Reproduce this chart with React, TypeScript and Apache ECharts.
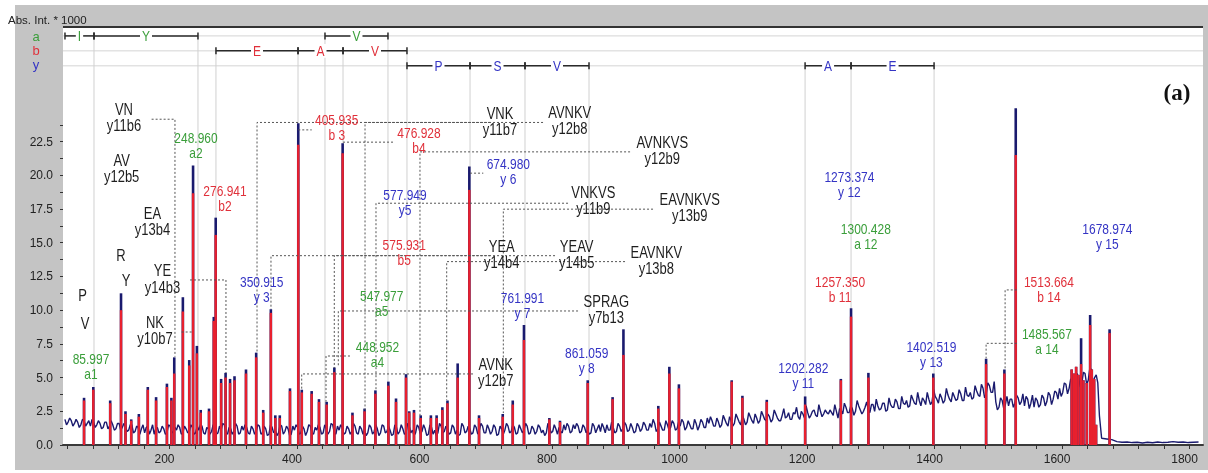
import React, { useEffect, useRef } from "react";
import * as echarts from "echarts";

// ---------- data ----------
const xTickLabels = [200, 400, 600, 800, 1000, 1200, 1400, 1600, 1800];
const yTickLabels = [0, 2.5, 5, 7.5, 10, 12.5, 15, 17.5, 20, 22.5];

// profile (baseline noise) read every 2.5 m/z from 36: on-grid samples and in-between samples
const noiseStart = 36;
const noiseStep = 5;
const noiseValues = [
  1.9, 1.7, 1.8, 1.6, 1.7, 1.5, 1.8, 1.6, 1.4, 1.7, 1.5, 1.6, 1.3, 1.7, 1.4, 1.5, 1.2, 1.6, 1.3, 1.4,
  1.1, 1.5, 1.0, 1.3, 1.2, 0.9, 1.4, 1.1, 0.8, 1.3, 1.0, 1.2, 0.9, 1.4, 1.0, 1.1, 1.3, 0.9, 1.2, 1.0,
  1.3, 0.9, 1.1, 1.4, 0.8, 1.2, 1.0, 1.3, 0.9, 1.1, 1.5, 0.8, 1.2, 1.0, 1.4, 0.9, 1.1, 1.3, 0.8, 1.2,
  1.0, 1.4, 0.9, 1.2, 0.8, 1.3, 1.1, 0.9, 1.4, 1.0, 1.2, 0.8, 1.1, 1.3, 0.9, 1.2, 1.0, 1.4, 0.8, 1.1,
  1.3, 0.9, 1.2, 1.0, 1.5, 0.8, 1.1, 1.3, 0.9, 1.2, 1.0, 1.4, 0.8, 1.2, 1.1, 0.9, 1.3, 1.0, 1.2, 0.9,
  1.4, 1.0, 1.1, 0.8, 1.3, 1.0, 1.2, 0.9, 1.4, 1.1, 0.9, 1.3, 1.0, 1.2, 0.8, 1.3, 1.1, 0.9, 1.4, 1.0,
  1.2, 0.9, 1.3, 1.1, 0.8, 1.4, 1.0, 1.2, 0.9, 1.3, 1.1, 1.4, 0.9, 1.2, 1.0, 1.3, 0.8, 1.2, 1.1, 1.4,
  1.0, 1.3, 0.9, 1.2, 1.1, 1.4, 0.9, 1.2, 1.0, 1.3, 1.1, 0.9, 1.4, 1.0, 1.2, 1.3, 0.9, 1.1, 1.4, 1.0,
  1.2, 1.4, 1.0, 1.3, 1.1, 0.9, 1.4, 1.2, 1.0, 1.3, 1.5, 1.1, 1.3, 1.0, 1.4, 1.2, 1.5, 1.1, 1.3, 1.0,
  1.4, 1.2, 1.5, 1.1, 1.3, 1.6, 1.2, 1.4, 1.1, 1.5, 1.3, 1.6, 1.2, 1.4, 1.7, 1.3, 1.5, 1.2, 1.6, 1.4,
  1.7, 1.3, 1.6, 1.8, 1.4, 1.7, 1.5, 1.9, 1.4, 1.8, 1.6, 2.0, 1.5, 1.9, 1.7, 2.1, 1.6, 2.0, 1.8, 2.2,
  1.8, 2.1, 1.9, 2.3, 1.8, 2.2, 2.0, 2.4, 1.9, 2.3, 2.1, 2.5, 2.0, 2.4, 2.2, 2.6, 2.1, 2.5, 2.3, 2.4,
  2.6, 2.2, 2.5, 2.7, 2.3, 2.8, 2.4, 2.7, 2.5, 2.9, 2.3, 2.8, 2.6, 3.0, 2.5, 2.9, 2.7, 3.1, 2.6, 3.0,
  2.8, 3.2, 2.7, 3.1, 3.3, 2.9, 3.4, 3.0, 3.3, 3.5, 3.0, 3.4, 3.2, 3.6, 3.1, 3.5, 3.3, 3.7, 3.2, 3.6,
  3.4, 3.8, 3.3, 3.7, 3.9, 3.5, 4.0, 3.6, 4.2, 3.8, 4.4, 3.9, 3.2, 2.8, 3.3, 3.0, 2.9, 3.4, 3.1, 3.5,
  3.2, 2.9, 3.4, 3.1, 2.8, 3.3, 3.0, 3.5, 3.2, 3.7, 3.4, 3.9, 4.2, 3.9, 4.5, 4.2, 4.8, 4.5, 5.0, 4.6,
  5.3, 4.8, 5.6, 5.0, 4.6,
];
const noiseMidValues = [
  1.5, 2.0, 1.4, 1.9, 1.3, 1.9, 1.4, 1.8, 1.9, 1.3, 1.8, 1.2, 1.7, 1.2, 1.8, 1.1, 1.6, 1.1, 1.6, 1.0,
  1.5, 0.9, 1.4, 0.8, 1.5, 1.3, 0.8, 1.5, 1.2, 0.9, 1.4, 0.8, 1.5, 0.9, 1.3, 1.5, 0.8, 1.4, 0.9, 1.5,
  0.8, 1.4, 1.5, 0.9, 1.3, 0.8, 1.5, 0.8, 1.4, 1.6, 0.9, 1.3, 0.8, 1.6, 0.8, 1.4, 1.5, 0.9, 1.4, 0.8,
  1.5, 0.8, 1.4, 0.7, 1.5, 0.9, 0.7, 1.5, 0.8, 1.4, 0.7, 1.4, 1.5, 0.8, 1.4, 0.7, 1.5, 0.9, 1.3, 1.5,
  0.8, 1.5, 0.8, 1.6, 0.9, 1.4, 1.5, 0.8, 1.4, 0.8, 1.6, 0.9, 1.4, 0.8, 0.7, 1.5, 0.8, 1.5, 0.7, 1.5,
  0.9, 1.4, 0.7, 1.5, 0.8, 1.5, 0.8, 1.6, 0.9, 0.7, 1.5, 0.8, 1.5, 0.7, 1.5, 0.8, 0.7, 1.6, 0.9, 1.4,
  0.8, 1.5, 0.8, 0.7, 1.6, 0.9, 1.4, 0.8, 1.5, 0.8, 1.6, 0.9, 1.5, 0.8, 1.5, 0.7, 1.4, 0.8, 1.6, 0.9,
  1.5, 0.8, 1.5, 0.9, 1.6, 0.8, 1.4, 0.8, 1.5, 0.9, 0.7, 1.6, 0.9, 1.5, 0.8, 1.0, 1.5, 1.6, 0.9, 1.5,
  1.6, 0.9, 1.5, 0.9, 0.8, 1.6, 0.9, 1.5, 1.6, 0.9, 1.1, 1.7, 0.9, 1.6, 1.0, 1.7, 1.0, 1.6, 0.9, 1.6,
  1.0, 1.7, 1.1, 1.6, 1.9, 1.0, 1.7, 1.1, 1.8, 1.1, 1.8, 1.1, 1.7, 1.9, 1.1, 1.8, 1.2, 1.9, 1.1, 1.9,
  1.3, 2.0, 2.1, 1.4, 2.0, 1.3, 2.2, 1.6, 2.1, 1.4, 2.3, 1.7, 2.2, 1.5, 2.4, 1.8, 2.3, 1.6, 2.5, 1.9,
  2.3, 1.7, 2.6, 2.0, 1.8, 2.7, 2.1, 1.9, 2.4, 2.8, 1.9, 2.3, 2.9, 2.0, 2.5, 2.2, 3.0, 2.1, 2.6, 2.3,
  2.4, 3.0, 2.0, 2.6, 3.1, 2.4, 2.9, 2.2, 3.3, 2.6, 2.5, 3.2, 2.4, 3.0, 3.4, 2.6, 3.1, 2.5, 3.5, 2.8,
  3.4, 2.7, 3.6, 3.0, 2.8, 3.7, 3.1, 3.9, 2.9, 3.3, 3.9, 3.0, 4.1, 3.4, 3.8, 3.1, 4.2, 3.4, 3.9, 3.3,
  4.1, 3.3, 4.3, 3.6, 3.4, 4.4, 3.7, 4.5, 3.5, 4.6, 3.9, 4.7, 2.6, 3.5, 2.7, 3.6, 3.4, 2.8, 3.7, 3.0,
  3.8, 3.6, 2.7, 3.7, 3.5, 2.8, 3.7, 2.9, 3.9, 3.0, 4.0, 3.4, 3.6, 4.6, 3.8, 4.9, 4.0, 5.3, 4.3, 5.4,
  4.5, 5.7, 4.6, 5.2, 2.2,
];
const tailStart = 1662;
const tailStep = 8;
const tailValues = [0.5, 0.45, 0.4, 0.25, 0.2, 0.22, 0.18, 0.2, 0.15, 0.2, 0.17, 0.22, 0.18, 0.2, 0.25, 0.2, 0.22, 0.18, 0.2, 0.22];

// peaks: [m/z, profile top, annotated (red) top]
const peaks: [number, number, number][] = [
  [66, 3.5, 3.3], [80.5, 4.3, 4.1], [107, 3.3, 3.1], [124, 11.25, 10.0], [131, 2.5, 2.3],
  [140, 1.9, 1.8], [152, 2.3, 2.1], [166, 4.3, 4.1], [179, 3.55, 3.3], [196, 4.55, 4.3],
  [203, 3.5, 3.3], [207.5, 6.5, 5.3], [221, 10.96, 9.9], [231, 6.3, 5.9], [237, 20.72, 18.67],
  [243, 7.35, 6.8], [249, 2.6, 2.4], [262, 2.7, 2.5], [269.5, 9.5, 9.2], [272.5, 16.86, 15.58],
  [281, 4.9, 4.6], [288, 5.35, 5.0], [295, 4.9, 4.6], [302, 5.1, 4.8], [320, 5.6, 5.3],
  [336, 6.85, 6.5], [347, 2.6, 2.4], [359, 10.07, 9.8], [366, 2.2, 2.0], [373, 2.2, 2.0],
  [389, 4.2, 4.0], [402, 23.87, 22.26], [407.5, 4.1, 3.9], [423, 4.0, 3.8], [434.5, 3.4, 3.2],
  [446.5, 3.2, 3.0], [458.6, 5.75, 5.4], [471.6, 22.38, 21.64], [487, 2.4, 2.2], [506, 2.7, 2.5],
  [523, 4.05, 3.8], [543.3, 4.7, 4.4], [555.3, 3.45, 3.2], [571, 5.25, 5.0], [576, 2.5, 2.4],
  [583.5, 2.6, 2.4], [594, 2.2, 2.0], [610, 2.2, 2.0], [619, 2.2, 2.0], [628, 2.8, 2.6],
  [636, 3.3, 3.1], [652, 6.05, 5.0], [670.3, 20.65, 18.92], [685.5, 2.2, 2.0], [722.7, 2.3, 2.1],
  [738.4, 3.3, 3.0], [756, 8.9, 7.79], [795.8, 2.0, 1.9], [812.5, 1.8, 1.7], [856, 4.8, 4.6],
  [895, 3.55, 3.4], [912, 8.58, 6.68], [966.7, 2.9, 2.7], [984, 5.8, 5.3], [999, 4.5, 4.2],
  [1081.8, 4.8, 4.7], [1098.6, 3.65, 3.5], [1136.8, 3.35, 3.2], [1197, 3.6, 3.0], [1253, 4.9, 4.8],
  [1269, 10.14, 9.52], [1296.2, 5.35, 5.0], [1398, 5.3, 5.0], [1480.8, 6.4, 6.0], [1509.5, 5.6, 5.3],
  [1527.3, 24.98, 21.51], [1615, 5.6, 5.6], [1619, 5.3, 5.3], [1622, 5.8, 5.8], [1625.6, 5.2, 5.2],
  [1629.8, 7.92, 6.0], [1633.4, 4.8, 4.8], [1638.7, 4.6, 4.6], [1644, 9.64, 8.9], [1646.6, 5.6, 5.6],
  [1650.2, 4.9, 4.9], [1653.3, 1.5, 1.5], [1674.5, 8.58, 8.3],
];

// annotation labels: [m/z, intensity, text, kind]  kind: a / b / y ion, k = internal fragment
const annotations: [number, number, string, string][] = [
  [128.6, 24.26, "VN\ny11b6", "k"],
  [125.0, 20.49, "AV\ny12b5", "k"],
  [241.6, 22.22, "248.960\na2", "a"],
  [173.3, 16.57, "EA\ny13b4", "k"],
  [287.1, 18.3, "276.941\nb2", "b"],
  [123.9, 14.04, "R", "k"],
  [131.8, 12.19, "Y", "k"],
  [189.0, 12.3, "YE\ny14b3", "k"],
  [63.8, 11.08, "P", "k"],
  [67.5, 9.03, "V", "k"],
  [177.3, 8.47, "NK\ny10b7", "k"],
  [76.9, 5.81, "85.997\na1", "a"],
  [344.6, 11.52, "350.915\ny 3", "y"],
  [462.3, 23.55, "405.935\nb 3", "b"],
  [591.4, 22.57, "476.928\nb4", "b"],
  [718.4, 24.01, "VNK\ny11b7", "k"],
  [827.8, 24.07, "AVNKV\ny12b8", "k"],
  [972.9, 21.85, "AVNKVS\ny12b9", "k"],
  [731.5, 20.24, "674.980\ny 6", "y"],
  [569.4, 17.95, "577.949\ny5", "y"],
  [864.8, 18.12, "VNKVS\ny11b9", "k"],
  [1016.0, 17.62, "EAVNKVS\ny13b9", "k"],
  [568.2, 14.28, "575.931\nb5", "b"],
  [721.1, 14.15, "YEA\ny14b4", "k"],
  [838.7, 14.15, "YEAV\ny14b5", "k"],
  [963.6, 13.69, "EAVNKV\ny13b8", "k"],
  [532.9, 10.51, "547.977\na5", "a"],
  [753.7, 10.35, "761.991\ny 7", "y"],
  [885.2, 10.07, "SPRAG\ny7b13", "k"],
  [526.3, 6.7, "448.952\na4", "a"],
  [711.8, 5.38, "AVNK\ny12b7", "k"],
  [854.4, 6.25, "861.059\ny 8", "y"],
  [1194.2, 5.17, "1202.282\ny 11", "y"],
  [1266.4, 19.29, "1273.374\ny 12", "y"],
  [1292.2, 15.45, "1300.428\na 12", "a"],
  [1251.8, 11.5, "1257.350\nb 11", "b"],
  [1395.0, 6.74, "1402.519\ny 13", "y"],
  [1579.3, 11.56, "1513.664\nb 14", "b"],
  [1576.2, 7.69, "1485.567\na 14", "a"],
  [1670.9, 15.45, "1678.974\ny 15", "y"],
];

// dotted leader lines: list of [m/z, intensity] points
const connectors: [number, number][][] = [
  [[172.0, 24.16], [208.6, 24.16], [208.6, 6.55]],
  [[232.2, 12.24], [288.6, 12.24], [288.6, 5.34]],
  [[219.1, 8.38], [237.3, 8.38]],
  [[402.0, 23.37], [423.1, 23.37]],
  [[472.2, 22.46], [550.6, 22.46]],
  [[702.7, 23.92], [337.3, 23.92], [337.3, 6.82]],
  [[785.9, 23.92], [506.7, 23.92], [506.7, 2.6]],
  [[922.4, 21.74], [592.9, 21.74], [592.9, 2.08]],
  [[671.4, 20.16], [692.2, 20.16]],
  [[825.1, 17.93], [523.9, 17.93], [523.9, 4.08]],
  [[958.4, 17.49], [723.6, 17.49], [723.6, 2.37]],
  [[702.7, 14.04], [359.2, 14.04], [359.2, 10.09]],
  [[804.7, 14.04], [458.5, 14.04], [458.5, 5.71]],
  [[914.5, 13.6], [634.8, 13.6], [634.8, 3.34]],
  [[840.8, 9.94], [464.8, 9.94], [464.8, 5.79]],
  [[483.1, 6.6], [445.5, 6.6], [445.5, 3.21]],
  [[676.1, 5.27], [407.4, 5.27], [407.4, 4.15]],
  [[1528.9, 11.5], [1510.6, 11.5], [1510.6, 5.64]],
  [[1528.9, 7.54], [1480.8, 7.54], [1480.8, 6.43]],
];

// sequence ladders: [start m/z, end m/z, ion row, residue]
const ladderRows = ["a", "b", "y"];
const ladderLevels = [30.34, 29.23, 28.12];
const ladder: [number, number, string, string][] = [
  [36.1, 81.6, "a", "I"], [81.6, 244.7, "a", "Y"], [443.9, 542.7, "a", "V"],
  [272.9, 401.6, "b", "E"], [401.6, 472.2, "b", "A"], [472.2, 572.5, "b", "V"],
  [572.5, 671.4, "y", "P"], [671.4, 757.6, "y", "S"], [757.6, 858.0, "y", "V"],
  [1196.9, 1269.0, "y", "A"], [1269.0, 1399.2, "y", "E"],
];
const ladderGuides: [number, string][] = [
  [81.6, "a"], [244.7, "a"], [443.9, "a"], [542.7, "a"],
  [272.9, "b"], [401.6, "b"], [472.2, "b"], [572.5, "b"],
  [671.4, "y"], [757.6, "y"], [858.0, "y"], [1196.9, "y"], [1269.0, "y"], [1399.2, "y"],
];

const X_MIN = 33;
const X_MAX = 1821;

const COLORS: Record<string, string> = { a: "#3a9e3a", b: "#e0303a", y: "#3434c4", k: "#1e1e1e" };
const FONT = "'Liberation Sans', Arial, Helvetica, sans-serif";

export default function App() {
  const ref = useRef<HTMLDivElement>(null);

  useEffect(() => {
    const chart = echarts.init(ref.current!, null, { renderer: "svg" });

    const profile: number[][] = [];
    noiseValues.forEach((v, i) => {
      profile.push([noiseStart + i * noiseStep, v]);
      profile.push([noiseStart + i * noiseStep + noiseStep / 2, noiseMidValues[i]]);
    });
    tailValues.forEach((v, i) => profile.push([tailStart + i * tailStep, v]));

    const levelOf = (row: string) => ladderLevels[ladderRows.indexOf(row)];

    const stick = (color: string, width: number) => (params: any, api: any) => {
      const x = api.value(0);
      const h = api.value(1);
      const p0 = api.coord([x, 0]);
      const p1 = api.coord([x, h]);
      return {
        type: "line",
        shape: { x1: p0[0], y1: p0[1], x2: p1[0], y2: p1[1] },
        style: { stroke: color, lineWidth: width },
      };
    };

    const minorX: number[] = [];
    for (let t = 40; t <= 1800; t += 40) minorX.push(t);
    const minorY: number[] = [];
    for (let t = 0; t <= 23.75; t += 1.25) minorY.push(t);

    chart.setOption({
      animation: false,
      grid: { left: 63, right: 5, top: 27, bottom: 28, containLabel: false },
      xAxis: {
        type: "value",
        min: X_MIN,
        max: X_MAX,
        axisLine: { show: true, onZero: true, lineStyle: { color: "#3a3a3a", width: 2 } },
        axisTick: { show: true, customValues: minorX, length: 4, lineStyle: { color: "#333", width: 1 } },
        axisLabel: {
          customValues: xTickLabels,
          formatter: (v: number) => String(v),
          color: "#222",
          fontSize: 12,
          fontFamily: FONT,
          margin: 8,
          padding: [0, 10, 0, 0],
        },
        splitLine: { show: false },
      },
      yAxis: {
        type: "value",
        min: 0,
        max: 31,
        axisLine: { show: false },
        axisTick: { show: true, customValues: minorY, length: 3, lineStyle: { color: "#333", width: 1 } },
        axisLabel: {
          customValues: yTickLabels,
          formatter: (v: number) => v.toFixed(1),
          color: "#222",
          fontSize: 12,
          fontFamily: FONT,
          margin: 10,
        },
        splitLine: { show: false },
      },
      graphic: [
        { type: "rect", z: -10, shape: { x: 15, y: 5, width: 1193, height: 465 }, style: { fill: "#c4c4c4" }, silent: true },
        { type: "rect", z: -9, shape: { x: 63, y: 27, width: 1140, height: 419 }, style: { fill: "#ffffff" }, silent: true },
        { type: "line", z: 10, shape: { x1: 63, y1: 27, x2: 1203, y2: 27 }, style: { stroke: "#333", lineWidth: 2 }, silent: true },
        {
          type: "text", x: 8, y: 20, silent: true,
          style: { text: "Abs. Int. * 1000", fill: "#222", fontSize: 11.5, fontFamily: FONT, verticalAlign: "middle" },
        },
        { type: "text", x: 36, y: 36, style: { text: "a", fill: COLORS.a, fontSize: 13, fontFamily: FONT, align: "center", verticalAlign: "middle" } },
        { type: "text", x: 36, y: 50, style: { text: "b", fill: COLORS.b, fontSize: 13, fontFamily: FONT, align: "center", verticalAlign: "middle" } },
        { type: "text", x: 36, y: 64, style: { text: "y", fill: COLORS.y, fontSize: 13, fontFamily: FONT, align: "center", verticalAlign: "middle" } },
        {
          type: "text", x: 1177, y: 92, z: 10,
          style: { text: "(a)", fill: "#111", font: "bold 23px 'Liberation Serif', 'Times New Roman', serif", align: "center", verticalAlign: "middle" },
        },
      ],
      series: [
        {
          type: "custom",
          name: "rows",
          silent: true,
          z: 1,
          data: ladderLevels.map((v) => [X_MIN, v]),
          renderItem: (params: any, api: any) => {
            const v = api.value(1);
            const p0 = api.coord([X_MIN, v]);
            const p1 = api.coord([X_MAX, v]);
            return { type: "line", shape: { x1: p0[0], y1: p0[1], x2: p1[0], y2: p1[1] }, style: { stroke: "#d4d4d4", lineWidth: 1 } };
          },
        },
        {
          type: "custom",
          name: "guides",
          silent: true,
          z: 1,
          data: ladderGuides.map((g) => [g[0], levelOf(g[1])]),
          renderItem: (params: any, api: any) => {
            const x = api.value(0);
            const p0 = api.coord([x, api.value(1)]);
            const p1 = api.coord([x, 0]);
            return { type: "line", shape: { x1: p0[0], y1: p0[1], x2: p1[0], y2: p1[1] }, style: { stroke: "#d0d0d0", lineWidth: 1 } };
          },
        },
        {
          type: "line",
          name: "profile",
          data: profile,
          showSymbol: false,
          symbol: "none",
          silent: true,
          z: 2,
          lineStyle: { color: "#1a1a6e", width: 1.4 },
        },
        {
          type: "custom",
          name: "profile peaks",
          silent: true,
          z: 3,
          data: peaks.map((p) => [p[0], p[1]]),
          renderItem: stick("#1a1a6e", 2.6),
        },
        {
          type: "custom",
          name: "annotated peaks",
          silent: true,
          z: 4,
          data: peaks.map((p) => [p[0], p[2]]),
          renderItem: stick("#e8202e", 2.4),
        },
        {
          type: "custom",
          name: "connectors",
          silent: true,
          z: 5,
          data: connectors.map((c) => [c[0][0], c[0][1]]),
          renderItem: (params: any, api: any) => {
            const pts = connectors[params.dataIndex].map((p) => api.coord(p));
            return { type: "polyline", shape: { points: pts }, style: { stroke: "#555", lineWidth: 1, lineDash: [2, 2], fill: "none" } };
          },
        },
        {
          type: "custom",
          name: "ladder",
          silent: true,
          z: 6,
          data: ladder.map((l) => [l[0], levelOf(l[2]), l[1]]),
          renderItem: (params: any, api: any) => {
            const item = ladder[params.dataIndex];
            const v = levelOf(item[2]);
            const p1 = api.coord([item[0], v]);
            const p2 = api.coord([item[1], v]);
            const st = { stroke: "#2a2a2a", lineWidth: 1.5 };
            return {
              type: "group",
              children: [
                { type: "line", shape: { x1: p1[0], y1: p1[1], x2: p2[0], y2: p2[1] }, style: st },
                { type: "line", shape: { x1: p1[0], y1: p1[1] - 3.5, x2: p1[0], y2: p1[1] + 3.5 }, style: st },
                { type: "line", shape: { x1: p2[0], y1: p2[1] - 3.5, x2: p2[0], y2: p2[1] + 3.5 }, style: st },
                {
                  type: "text",
                  x: (p1[0] + p2[0]) / 2,
                  y: p1[1],
                  scaleY: 1.15,
                  style: {
                    text: item[3], fill: COLORS[item[2]], fontSize: 12, fontFamily: FONT,
                    align: "center", verticalAlign: "middle", backgroundColor: "#ffffff", padding: [0, 2],
                  },
                },
              ],
            };
          },
        },
        {
          type: "custom",
          name: "labels",
          silent: true,
          z: 7,
          data: annotations.map((a) => [a[0], a[1]]),
          renderItem: (params: any, api: any) => {
            const item = annotations[params.dataIndex];
            const p = api.coord([item[0], item[1]]);
            const black = item[3] === "k";
            return {
              type: "text",
              x: p[0],
              y: p[1],
              scaleY: 1.2,
              style: {
                text: item[2],
                fill: COLORS[item[3]],
                fontSize: black ? 13 : 12,
                fontFamily: FONT,
                align: "center",
                verticalAlign: "middle",
                lineHeight: black ? 13.5 : 12.5,
              },
            };
          },
        },
      ],
    });

    return () => chart.dispose();
  }, []);

  return <div ref={ref} style={{ position: "fixed", left: 0, top: 0, width: 1208, height: 473 }} />;
}
